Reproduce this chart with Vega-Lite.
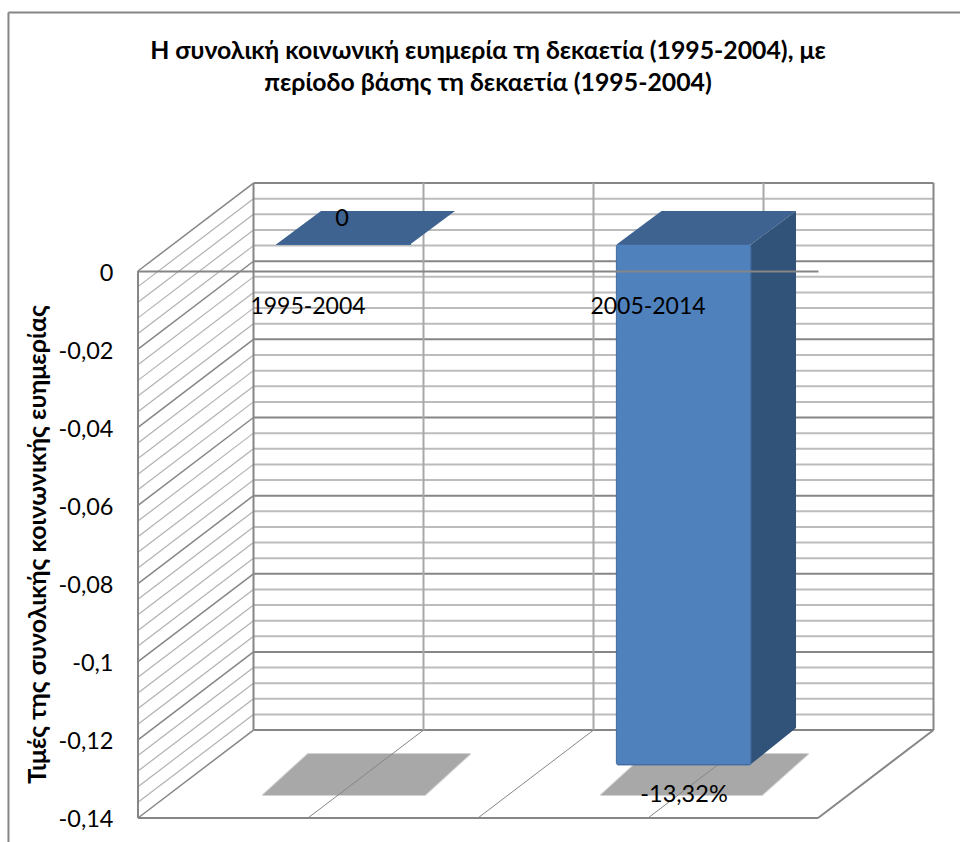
{"$schema":"https://vega.github.io/schema/vega-lite/v6.json","width":822,"height":712,"autosize":{"type":"none"},"padding":{"left":138,"top":130,"right":0,"bottom":0},"background":"white","config":{"view":{"stroke":null},"font":"Lato"},"title":{"text":["Η συνολική κοινωνική ευημερία τη δεκαετία (1995-2004), με","περίοδο βάσης τη δεκαετία (1995-2004)"],"font":"Lato","fontSize":24.8,"fontWeight":"bold","color":"#000000","anchor":"middle","frame":"group","dx":-61,"offset":-84,"lineHeight":32},"datasets":{"levels":[{"g":0,"back":0.0225,"major":true},{"g":-0.004,"back":0.0185,"major":false},{"g":-0.008,"back":0.0145,"major":false},{"g":-0.012,"back":0.0105,"major":false},{"g":-0.016,"back":0.0065,"major":false},{"g":-0.02,"back":0.0025,"major":true},{"g":-0.024,"back":-0.0015,"major":false},{"g":-0.028,"back":-0.0055,"major":false},{"g":-0.032,"back":-0.0095,"major":false},{"g":-0.036,"back":-0.0135,"major":false},{"g":-0.04,"back":-0.0175,"major":true},{"g":-0.044,"back":-0.0215,"major":false},{"g":-0.048,"back":-0.0255,"major":false},{"g":-0.052,"back":-0.0295,"major":false},{"g":-0.056,"back":-0.0335,"major":false},{"g":-0.06,"back":-0.0375,"major":true},{"g":-0.064,"back":-0.0415,"major":false},{"g":-0.068,"back":-0.0455,"major":false},{"g":-0.072,"back":-0.0495,"major":false},{"g":-0.076,"back":-0.0535,"major":false},{"g":-0.08,"back":-0.0575,"major":true},{"g":-0.084,"back":-0.0615,"major":false},{"g":-0.088,"back":-0.0655,"major":false},{"g":-0.092,"back":-0.0695,"major":false},{"g":-0.096,"back":-0.0735,"major":false},{"g":-0.1,"back":-0.0775,"major":true},{"g":-0.104,"back":-0.0815,"major":false},{"g":-0.108,"back":-0.0855,"major":false},{"g":-0.112,"back":-0.0895,"major":false},{"g":-0.116,"back":-0.0935,"major":false},{"g":-0.12,"back":-0.0975,"major":true},{"g":-0.124,"back":-0.1015,"major":false},{"g":-0.128,"back":-0.1055,"major":false},{"g":-0.132,"back":-0.1095,"major":false},{"g":-0.136,"back":-0.1135,"major":false},{"g":-0.14,"back":-0.1175,"major":true}],"edges":[{"c0":0.3397,"v0":0.0225,"c1":0.3397,"v1":-0.1175,"kind":"dark"},{"c0":0.8397,"v0":0.0225,"c1":0.8397,"v1":-0.1175,"kind":"mid"},{"c0":1.3397,"v0":0.0225,"c1":1.3397,"v1":-0.1175,"kind":"mid"},{"c0":1.8397,"v0":0.0225,"c1":1.8397,"v1":-0.1175,"kind":"mid"},{"c0":2.3397,"v0":0.0225,"c1":2.3397,"v1":-0.1175,"kind":"dark"},{"c0":0,"v0":0,"c1":0,"v1":-0.14,"kind":"dark"},{"c0":0,"v0":-0.14,"c1":2,"v1":-0.14,"kind":"dark"},{"c0":2,"v0":-0.14,"c1":2.3397,"v1":-0.1175,"kind":"dark"},{"c0":0.5,"v0":-0.14,"c1":0.8397,"v1":-0.1175,"kind":"thin"},{"c0":1,"v0":-0.14,"c1":1.3397,"v1":-0.1175,"kind":"thin"},{"c0":1.5,"v0":-0.14,"c1":1.8397,"v1":-0.1175,"kind":"thin"},{"c0":-0.381,"v0":0.06616,"c1":-0.381,"v1":-0.14615,"kind":"dark"},{"c0":-0.381,"v0":0.06616,"c1":2.4176,"v1":0.06616,"kind":"dark"}],"shadows":[{"s":"a","v":-0.1341,"c0":0.3676,"c1":0.8441},{"s":"a","v":-0.1236,"c0":0.5,"c1":0.9765},{"s":"b","v":-0.1341,"c0":1.3618,"c1":1.8353},{"s":"b","v":-0.1236,"c0":1.4941,"c1":1.9706}],"tops":[{"s":"a","v":0.00678,"c0":0.4059,"c1":0.8},{"s":"a","v":0.01536,"c0":0.5382,"c1":0.9324},{"s":"b","v":0.00678,"c0":1.4074,"c1":1.8029},{"s":"b","v":0.01536,"c0":1.5397,"c1":1.9353}],"side":[{"c":1.8029,"top":0.00678,"bottom":-0.1262},{"c":1.9353,"top":0.01536,"bottom":-0.117}],"welfare":[{"period":"1995-2004","value":0,"label":"0"},{"period":"2005-2014","value":-0.1332,"label":"-13,32%"}]},"resolve":{"scale":{"x":"independent","y":"independent"}},"layer":[{"layer":[{"data":{"name":"shadows"},"mark":{"type":"area","orient":"horizontal","fill":"#a8a8a8","stroke":"#a8a8a8","strokeOpacity":0.5,"strokeWidth":2,"strokeJoin":"round"},"encoding":{"y":{"field":"v","type":"quantitative","scale":{"domain":[-0.14615,0.03609],"nice":false,"zero":false},"axis":{"values":[0,-0.02,-0.04,-0.06,-0.08,-0.1,-0.12,-0.14],"domain":false,"ticks":false,"grid":false,"labelExpr":"replace(''+datum.value,'.',',')","labelFont":"Lato","labelFontSize":23.5,"labelColor":"#000000","labelPadding":25,"labelBaseline":"middle","labelOffset":2,"labelOverlap":false,"labelBound":false,"labelFlush":false,"title":"Τιμές της συνολικής κοινωνικής ευημερίας","titleFont":"Lato","titleFontSize":25,"titleFontWeight":"bold","titleColor":"#000000","titleX":-101,"titleY":414,"titleAngle":-90,"titleAlign":"center","titleBaseline":"middle"}},"x":{"field":"c0","type":"quantitative","scale":{"domain":[0,2.4176],"nice":false,"zero":false},"axis":null},"x2":{"field":"c1"},"detail":{"field":"s"}}},{"data":{"name":"levels"},"mark":{"type":"rule"},"encoding":{"x":{"datum":0,"type":"quantitative"},"x2":{"datum":0.3397},"y":{"field":"g","type":"quantitative"},"y2":{"field":"back"},"stroke":{"condition":{"test":"datum.major","value":"#868686"},"value":"#b2b2b2"},"strokeWidth":{"condition":{"test":"datum.major","value":1.5},"value":1.2}}},{"data":{"name":"levels"},"mark":{"type":"rule"},"encoding":{"x":{"datum":0.3397,"type":"quantitative"},"x2":{"datum":2.3397},"y":{"field":"back","type":"quantitative"},"stroke":{"condition":{"test":"datum.major","value":"#868686"},"value":"#bcbcbc"},"strokeWidth":{"condition":{"test":"datum.major","value":2},"value":2}}},{"data":{"name":"edges"},"mark":{"type":"rule"},"encoding":{"x":{"field":"c0","type":"quantitative"},"x2":{"field":"c1"},"y":{"field":"v0","type":"quantitative"},"y2":{"field":"v1"},"stroke":{"condition":{"test":"datum.kind==='mid'","value":"#a8a8a8"},"value":"#868686"},"strokeWidth":{"condition":{"test":"datum.kind==='thin'","value":1},"value":2}}},{"data":{"name":"tops"},"mark":{"type":"area","orient":"horizontal","fill":"#3e6391"},"encoding":{"y":{"field":"v","type":"quantitative"},"x":{"field":"c0","type":"quantitative"},"x2":{"field":"c1"},"detail":{"field":"s"}}},{"data":{"name":"side"},"mark":{"type":"area","orient":"vertical","fill":"#325379"},"encoding":{"x":{"field":"c","type":"quantitative"},"y":{"field":"top","type":"quantitative"},"y2":{"field":"bottom"}}}]},{"data":{"name":"welfare"},"mark":{"type":"bar","fill":"#4f81bd","stroke":"#41699b","strokeWidth":1,"cornerRadius":2,"xOffset":35.7,"x2Offset":35.7},"encoding":{"x":{"field":"period","type":"nominal","scale":{"range":[0,680],"paddingInner":0.604,"paddingOuter":0.302},"axis":{"orient":"bottom","offset":-571,"title":null,"labelAngle":0,"labelFont":"Lato","labelFontSize":23,"labelColor":"#000000","labelPadding":24.5,"ticks":false,"grid":false,"domainColor":"#868686","domainWidth":2,"zindex":1}},"y":{"field":"value","type":"quantitative","scale":{"domain":[-0.15293,0.02931],"nice":false,"zero":false},"axis":null}}},{"data":{"name":"welfare"},"transform":[{"filter":"datum.value===0"}],"mark":{"type":"text","font":"Lato","fontSize":23.5,"color":"#000000","dx":34,"dy":-52,"baseline":"middle"},"encoding":{"x":{"field":"period","type":"nominal","scale":{"range":[0,680],"paddingInner":0.604,"paddingOuter":0.302,"domain":["1995-2004","2005-2014"]},"axis":null},"y":{"field":"value","type":"quantitative","scale":{"domain":[-0.14615,0.03609],"nice":false,"zero":false},"axis":null},"text":{"field":"label"}}},{"data":{"name":"welfare"},"transform":[{"filter":"datum.value<0"}],"mark":{"type":"text","font":"Lato","fontSize":23.5,"color":"#000000","dx":36,"dy":4,"baseline":"middle"},"encoding":{"x":{"field":"period","type":"nominal","scale":{"range":[0,680],"paddingInner":0.604,"paddingOuter":0.302,"domain":["1995-2004","2005-2014"]},"axis":null},"y":{"field":"value","type":"quantitative","scale":{"domain":[-0.14615,0.03609],"nice":false,"zero":false},"axis":null},"text":{"field":"label"}}}]}
